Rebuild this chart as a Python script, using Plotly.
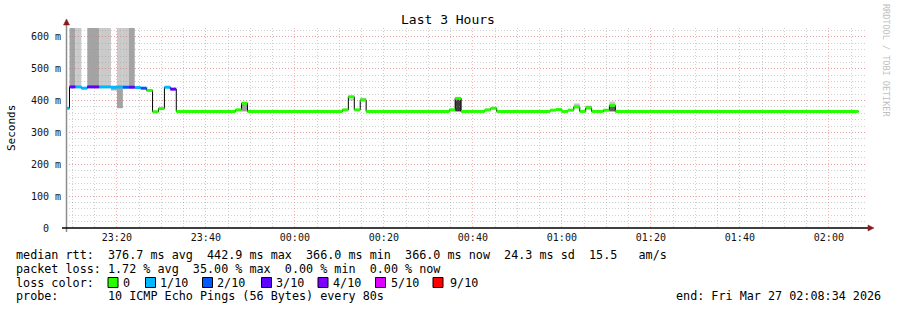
import plotly.graph_objects as go

# ---------------- data ----------------
# median RTT steps (start time of each step run, value in ms, lost pings out of 10)
seg_start = ["23:08:01", "23:09:21", "23:10:41", "23:12:01", "23:13:21", "23:16:01", "23:18:41",
             "23:20:01", "23:21:21", "23:22:41", "23:24:01", "23:25:21", "23:26:41", "23:28:01",
             "23:29:21", "23:30:41", "23:32:01", "23:33:21", "23:46:41", "23:48:01", "23:49:21",
             "00:10:41", "00:12:01", "00:13:21", "00:14:41", "00:16:01", "00:34:41", "00:36:01",
             "00:37:21", "00:42:41", "00:44:01", "00:45:21", "00:57:21", "00:58:41", "01:00:01",
             "01:01:21", "01:02:41", "01:04:01", "01:05:21", "01:06:41", "01:09:21", "01:10:41",
             "01:12:01"]
seg_last_end = "02:06:41"
median_ms = [376, 443, 443, 439, 443, 443, 442, 443, 442, 442,
             441, 439, 432, 365, 375, 442, 436, 366, 371, 392,
             366, 371, 412, 371, 402, 366, 371, 407, 366, 371,
             376, 366, 370, 372, 366, 370, 380, 366, 377, 366,
             370, 385, 366]
loss_tenths = [1, 3, 1, 1, 3, 1, 1, 1, 2, 3,
               1, 2, 0, 0, 0, 1, 3, 0, 0, 0,
               0, 0, 0, 0, 0, 0, 0, 0, 0, 0,
               0, 0, 0, 0, 0, 0, 0, 0, 0, 0,
               0, 0, 0]

# smoke (spread of the individual pings)
smoke_start = ["23:09:21", "23:10:41", "23:13:21", "23:16:01", "23:18:41", "23:20:01", "23:20:01",
               "23:21:21", "23:22:41", "23:48:01", "00:12:01", "00:14:41", "00:36:01", "01:02:41",
               "01:05:21", "01:10:41", "01:10:41"]
smoke_end = ["23:10:41", "23:12:01", "23:16:01", "23:18:41", "23:20:01", "23:21:21", "23:21:21",
             "23:22:41", "23:24:01", "23:49:21", "00:13:21", "00:16:01", "00:37:21", "01:04:01",
             "01:06:41", "01:12:01", "01:12:01"]
smoke_low = [443, 443, 443, 443, 432, 443, 376, 442, 442, 366, 400, 402, 366, 380, 377, 385, 366]
smoke_high = [628, 628, 628, 628, 440, 628, 443, 628, 628, 392, 407, 409, 407, 391, 384, 397, 385]
smoke_shade = ["#a4a4a4", "#cacaca", "#a4a4a4", "#cacaca", "#a8a8a8", "#cacaca", "#a4a4a4",
               "#cacaca", "#a4a4a4", "#a0a0a0", "#cccccc", "#c4c4c4", "#3c3c3c", "#c4c4c4",
               "#a8a8a8", "#c8c8c8", "#606060"]

loss_colors = {0: "#26ff00", 1: "#00b8ff", 2: "#0059ff", 3: "#5e00ff",
               4: "#7e00ff", 5: "#dd00ff", 9: "#ff0000"}
legend_labels = ["0", "1/10", "2/10", "3/10", "4/10", "5/10", "9/10"]
legend_keys = [0, 1, 2, 3, 4, 5, 9]

y_tickvals = [0, 100, 200, 300, 400, 500, 600]
y_ticktext = ["0\u00a0\u00a0", "100 m", "200 m", "300 m", "400 m", "500 m", "600 m"]

title_text = "Last 3 Hours"
line_rtt = "median rtt:  376.7 ms avg  442.9 ms max  366.0 ms min  366.0 ms now  24.3 ms sd  15.5   am/s"
line_loss = "packet loss: 1.72 % avg  35.00 % max  0.00 % min  0.00 % now"
line_probe = "probe:       10 ICMP Echo Pings (56 Bytes) every 80s"
line_end = "end: Fri Mar 27 02:08:34 2026"

range_start = "2026-03-26 23:08:34"
range_end = "2026-03-27 02:08:34"


def ts(hms):
    day = "2026-03-26" if int(hms[:2]) >= 12 else "2026-03-27"
    return day + " " + hms


def nb(s):
    return s.replace(" ", "\u00a0")


# ---------------- layout geometry ----------------
W, H = 897, 310
L, R, T, B = 66, 30, 28, 82
PW, PH = W - L - R, H - T - B


def px(x):
    return (x - L) / PW


def py(y):
    return (H - B - y) / PH


MONO = "DejaVu Sans Mono"

fig = go.Figure()

# black connecting line of the median
xs = [ts(s) for s in seg_start] + [ts(seg_last_end)]
ys = median_ms + [median_ms[-1]]
fig.add_trace(go.Scatter(x=xs, y=ys, mode="lines", line=dict(color="black", width=1, shape="hv"),
                         hoverinfo="skip", showlegend=False))

# coloured median segments by loss
ends = seg_start[1:] + [seg_last_end]
for key in sorted(set(loss_tenths)):
    sx, sy = [], []
    for s, e, v, l in zip(seg_start, ends, median_ms, loss_tenths):
        if l == key:
            sx += [ts(s), ts(e), None]
            sy += [v, v, None]
    fig.add_trace(go.Scatter(x=sx, y=sy, mode="lines",
                             line=dict(color=loss_colors[key], width=3),
                             hoverinfo="skip", showlegend=False))

shapes = []
# smoke, below the grid
for s, e, lo, hi, c in zip(smoke_start, smoke_end, smoke_low, smoke_high, smoke_shade):
    shapes.append(dict(type="rect", xref="x", yref="y", x0=ts(s), x1=ts(e), y0=lo, y1=hi,
                       fillcolor=c, line=dict(width=0), layer="below"))

# axis lines and arrows
shapes.append(dict(type="line", xref="paper", yref="paper", x0=px(66.5), x1=px(66.5),
                   y0=py(232), y1=py(24), line=dict(color="#8c8c8c", width=1.5), layer="above"))
shapes.append(dict(type="line", xref="paper", yref="paper", x0=px(62), x1=px(868),
                   y0=py(228), y1=py(228), line=dict(color="black", width=1.5), layer="above"))
shapes.append(dict(type="path", xref="paper", yref="paper",
                   path=f"M {px(63.5)} {py(25)} L {px(69.5)} {py(25)} L {px(66.5)} {py(19)} Z",
                   fillcolor="#8b1a1a", line=dict(color="#8b1a1a", width=0.5), layer="above"))
shapes.append(dict(type="path", xref="paper", yref="paper",
                   path=f"M {px(868)} {py(225)} L {px(868)} {py(231)} L {px(874)} {py(228)} Z",
                   fillcolor="#8b1a1a", line=dict(color="#8b1a1a", width=0.5), layer="above"))

annotations = []
# title
annotations.append(dict(text=title_text, xref="paper", yref="paper", x=px(448), y=py(19),
                        xanchor="center", yanchor="middle", showarrow=False,
                        font=dict(family=MONO, size=13, color="black")))
# y axis title
annotations.append(dict(text="Seconds", xref="paper", yref="paper", x=px(11), y=py(128),
                        xanchor="center", yanchor="middle", textangle=-90, showarrow=False,
                        font=dict(family=MONO, size=11, color="black")))
# watermark
annotations.append(dict(text="RRDTOOL / TOBI OETIKER", xref="paper", yref="paper", x=px(886), y=py(60),
                        xanchor="center", yanchor="middle", textangle=90, showarrow=False,
                        font=dict(family=MONO, size=8.5, color="#c0c0c0")))

LEG = 11.75
for txt, yy in [(line_rtt, 255), (line_loss, 268.5), ("loss color:", 282.5), (line_probe, 296)]:
    annotations.append(dict(text=nb(txt), xref="paper", yref="paper", x=px(13.5), y=py(yy),
                            xanchor="left", yanchor="middle", showarrow=False,
                            font=dict(family=MONO, size=LEG, color="black")))
annotations.append(dict(text=nb(line_end), xref="paper", yref="paper", x=px(883), y=py(296),
                        xanchor="right", yanchor="middle", showarrow=False,
                        font=dict(family=MONO, size=LEG, color="black")))

box_left = [108, 145.5, 202.5, 261.5, 318, 375.5, 433]
text_left = [121, 158, 215, 274, 331, 388.5, 448]
for key, lab, bx, tx in zip(legend_keys, legend_labels, box_left, text_left):
    shapes.append(dict(type="rect", xref="paper", yref="paper", x0=px(bx), x1=px(bx + 10),
                       y0=py(287.5), y1=py(277.5), fillcolor=loss_colors[key],
                       line=dict(color="black", width=1), layer="above"))
    annotations.append(dict(text=nb(lab), xref="paper", yref="paper", x=px(tx), y=py(282.5),
                            xanchor="left", yanchor="middle", showarrow=False,
                            font=dict(family=MONO, size=LEG, color="black")))

MAJOR = "rgba(235,120,120,0.55)"
MINOR = "rgba(150,150,150,0.45)"

fig.update_layout(
    width=W, height=H,
    margin=dict(l=L, r=R, t=T, b=B, pad=0),
    paper_bgcolor="white", plot_bgcolor="white",
    showlegend=False,
    shapes=shapes, annotations=annotations,
    xaxis=dict(type="date", range=[range_start, range_end],
               dtick=1200000, tick0="2026-03-26 23:20:00", tickformat="%H:%M",
               showgrid=True, gridcolor=MAJOR, gridwidth=1, griddash="1px,2px",
               minor=dict(dtick=300000, tick0="2026-03-26 23:20:00", showgrid=True,
                          gridcolor=MINOR, griddash="1px,2px", gridwidth=1),
               showline=False, zeroline=False, ticks="", ticklabelstandoff=2,
               tickfont=dict(family=MONO, size=10, color="#111")),
    yaxis=dict(range=[0, 628], tickvals=y_tickvals, ticktext=y_ticktext,
               showgrid=True, gridcolor=MAJOR, gridwidth=1, griddash="1px,2px",
               minor=dict(dtick=20, showgrid=True, gridcolor=MINOR, griddash="1px,2px", gridwidth=1),
               showline=False, zeroline=False, ticks="", ticklabelstandoff=4,
               tickfont=dict(family=MONO, size=10, color="#111")),
)

fig.write_html("out.html")
